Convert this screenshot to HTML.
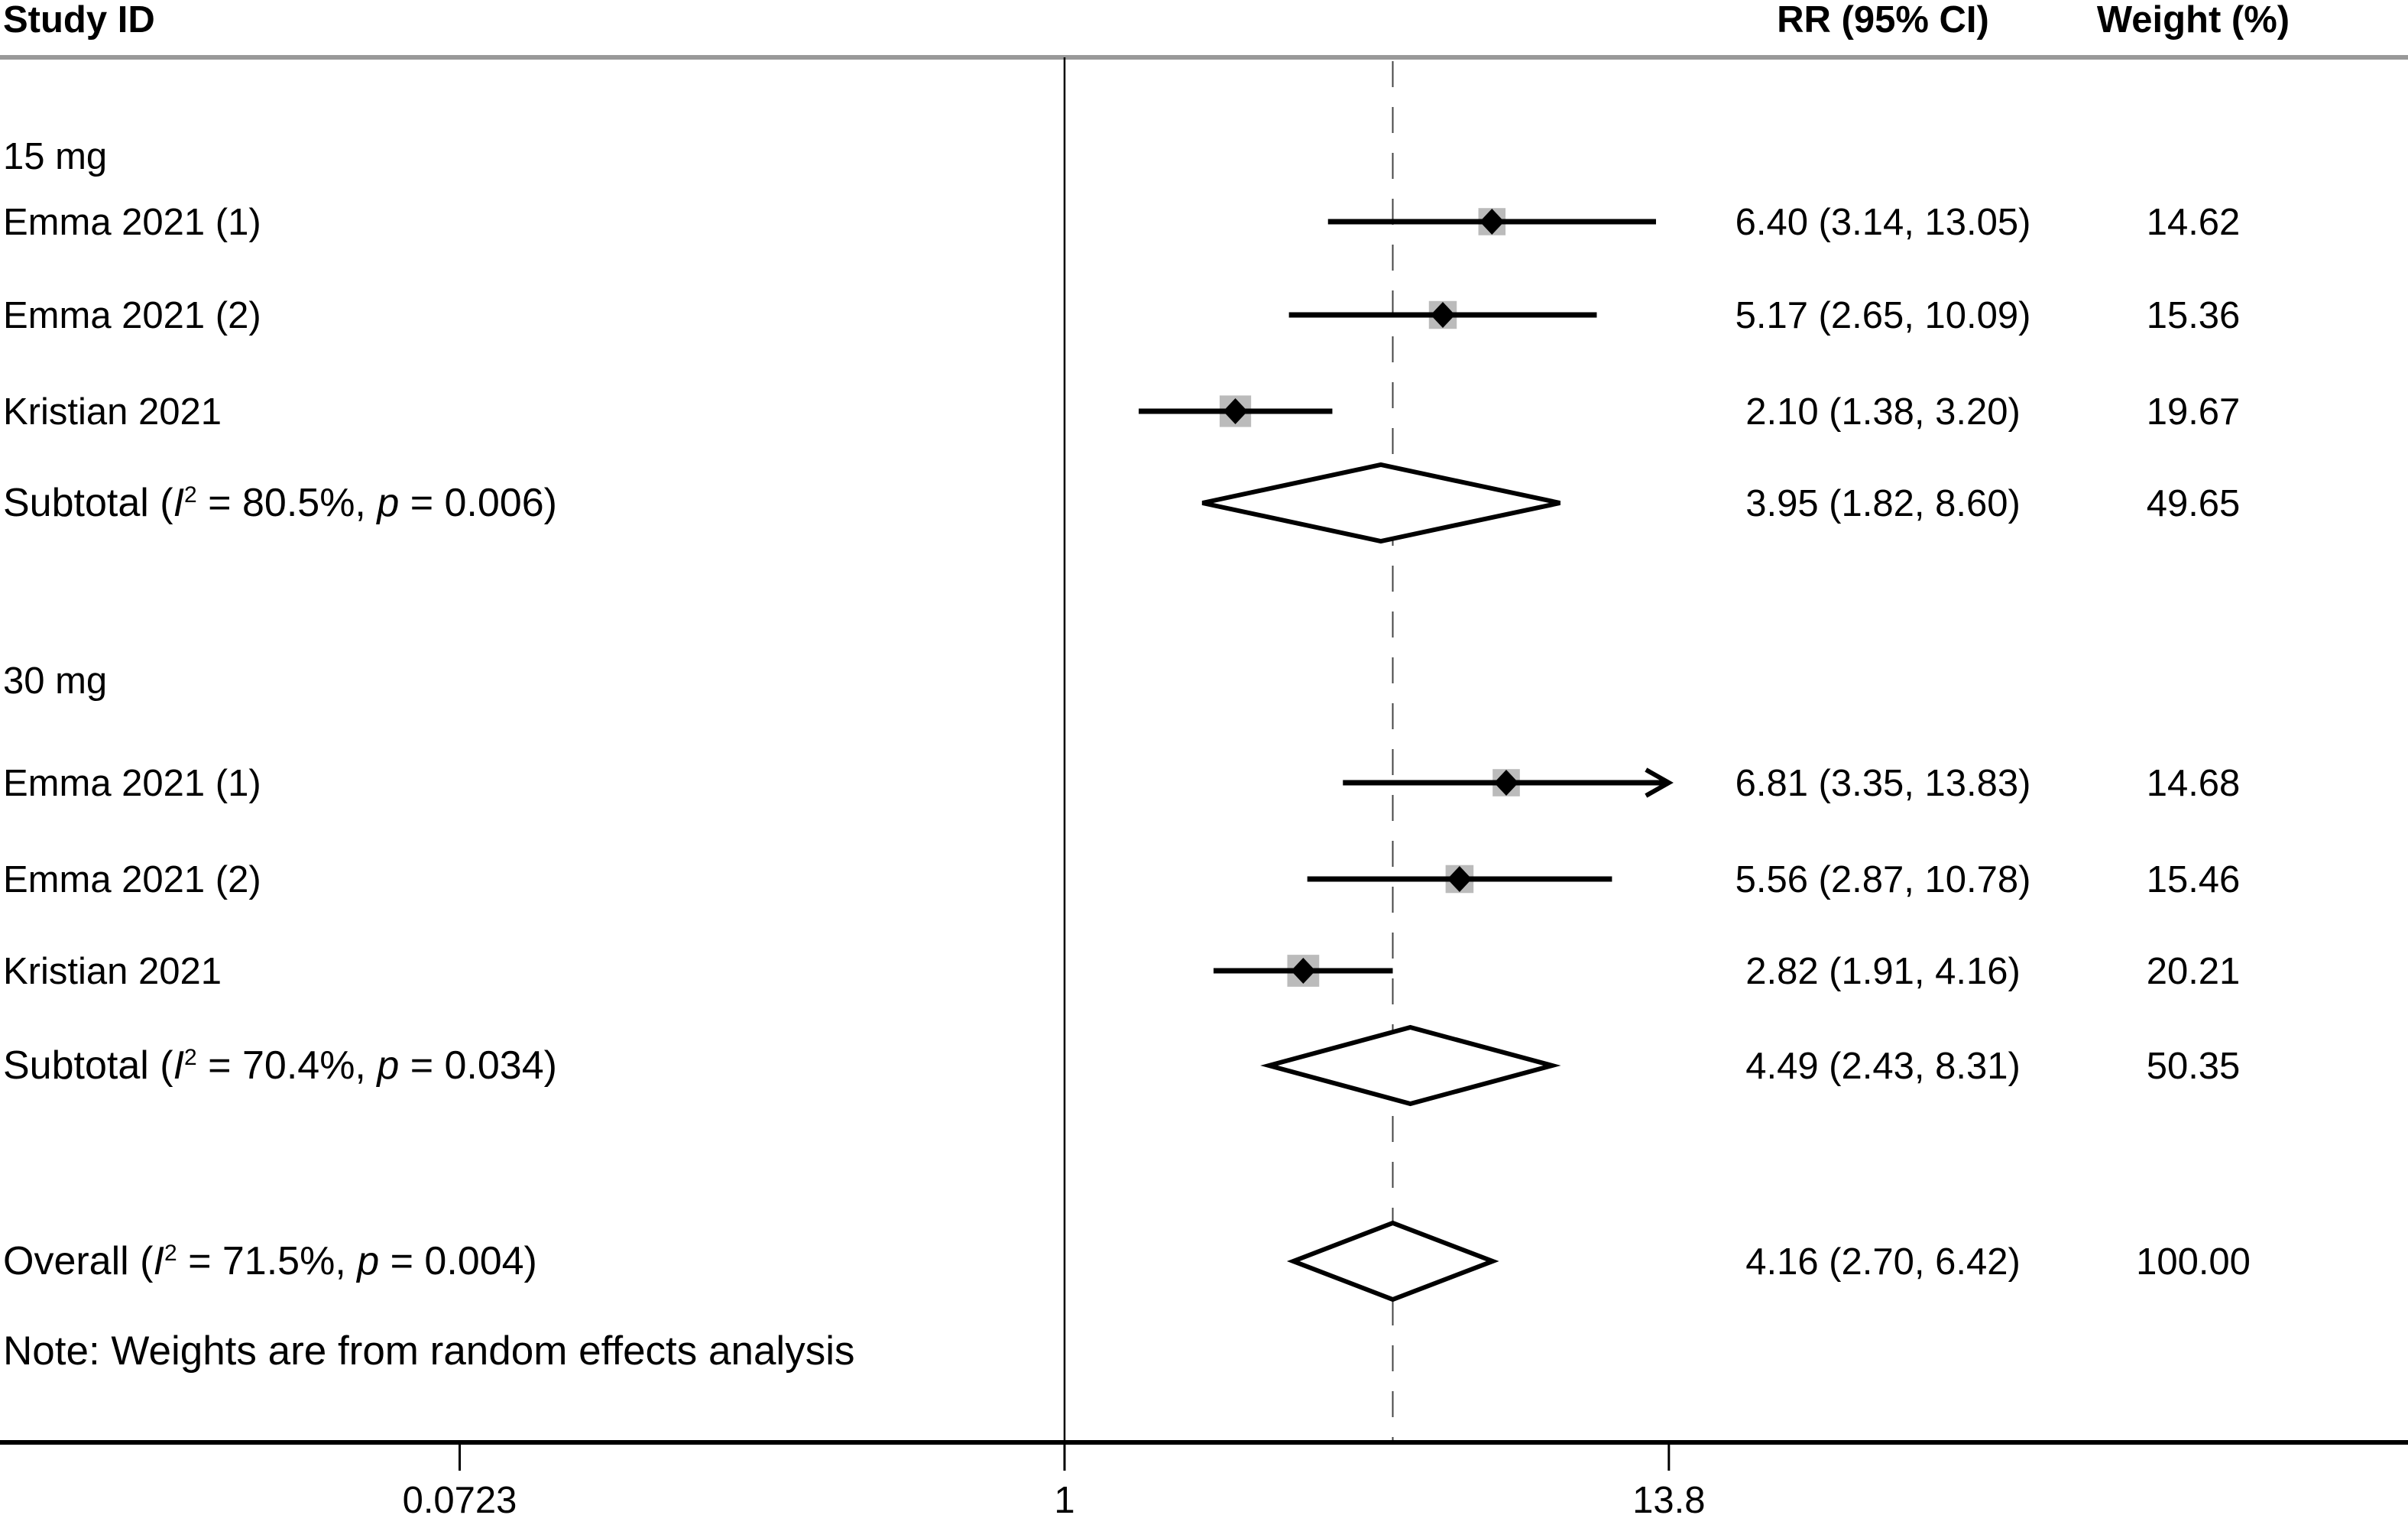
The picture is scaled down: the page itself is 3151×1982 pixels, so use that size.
<!DOCTYPE html>
<html><head><meta charset="utf-8"><style>
html,body{margin:0;padding:0;background:#fff;}
svg{display:block;font-family:"Liberation Sans",sans-serif;}
</style></head><body>
<svg id="chart" width="3151" height="1982" viewBox="0 0 3151 1982" xmlns="http://www.w3.org/2000/svg">
<text x="4" y="42" font-size="49" font-weight="bold">Study ID</text>
<text x="2464" y="42" font-size="49" font-weight="bold" text-anchor="middle">RR (95% CI)</text>
<text x="2870" y="42" font-size="49" font-weight="bold" text-anchor="middle">Weight (%)</text>
<line x1="0" y1="75" x2="3151" y2="75" stroke="#999" stroke-width="6"/>
<g id="marks"></g>
</svg>
<script>
const labels = ["Emma 2021 (1)","Emma 2021 (2)","Kristian 2021","SUB1","Emma 2021 (1)","Emma 2021 (2)","Kristian 2021","SUB2","OVR"];
const rr = [6.40,5.17,2.10,3.95,6.81,5.56,2.82,4.49,4.16];
const lo = [3.14,2.65,1.38,1.82,3.35,2.87,1.91,2.43,2.70];
const hi = [13.05,10.09,3.20,8.60,13.83,10.78,4.16,8.31,6.42];
const weights = ["14.62","15.36","19.67","49.65","14.68","15.46","20.21","50.35","100.00"];
const kinds = ["s","s","s","d","s","s","s","d","d"];
const rowY = [290,412,538,658,1024,1150,1270,1394,1650];
const ticks = [0.0723,1,13.8];
const tickLabels = ["0.0723","1","13.8"];

const NS="http://www.w3.org/2000/svg";
const g=document.getElementById('marks');
const X0=1393, K=301.3, AXMAX=13.8;
const xs=v=>X0+K*Math.log(v);
function el(t,a){const e=document.createElementNS(NS,t);for(const k in a)e.setAttribute(k,a[k]);g.appendChild(e);return e;}
function txt(x,y,s,anchor,fs){const f=fs||49;const e=el('text',{x:x,y:y+17,'font-size':f,'text-anchor':anchor||'start'});e.innerHTML=s;return e;}

let e=el('line',{x1:X0,y1:75,x2:X0,y2:1885,stroke:'#000','stroke-width':2.5});


e=el('line',{x1:xs(rr[8]),y1:80,x2:xs(rr[8]),y2:1885,stroke:'#444','stroke-width':2,'stroke-dasharray':'34,26'});



e=txt(4,204,'15 mg');


e=txt(4,890,'30 mg');


e=txt(4,1768,'Note: Weights are from random effects analysis','start',53);



const subLabels={SUB1:'Subtotal (<tspan font-style="italic">I</tspan><tspan font-size="30" dy="-18">2</tspan><tspan dy="18"> = 80.5%, </tspan><tspan font-style="italic">p</tspan> = 0.006)',
SUB2:'Subtotal (<tspan font-style="italic">I</tspan><tspan font-size="30" dy="-18">2</tspan><tspan dy="18"> = 70.4%, </tspan><tspan font-style="italic">p</tspan> = 0.034)',
OVR:'Overall (<tspan font-style="italic">I</tspan><tspan font-size="30" dy="-18">2</tspan><tspan dy="18"> = 71.5%, </tspan><tspan font-style="italic">p</tspan> = 0.004)'};

for(let i=0;i<labels.length;i++){
  const y=rowY[i];
  const isSub=!!subLabels[labels[i]];
  const lab=subLabels[labels[i]]||labels[i];
  e=txt(4,y,lab,'start',isSub?52:49);
  
  
  e=txt(2464,y,rr[i].toFixed(2)+' ('+lo[i].toFixed(2)+', '+hi[i].toFixed(2)+')','middle');
  
  
  e=txt(2870,y,weights[i],'middle');
  
  
  const xl=xs(lo[i]), xc=xs(rr[i]);
  if(kinds[i]==='s'){
    const over=hi[i]>AXMAX;
    const xh=over?xs(AXMAX):xs(hi[i]);
    const w=parseFloat(weights[i]);
    const sq=36*Math.sqrt(w/15);
    e=el('rect',{x:xc-sq/2,y:y-sq/2,width:sq,height:sq,fill:'#bbb'});
    
    
    e=el('line',{x1:xl,y1:y,x2:xh,y2:y,stroke:'#000','stroke-width':7});
    
    
    if(over){
      e=el('polyline',{points:`${xh-30},${y-17} ${xh},${y} ${xh-30},${y+17}`,fill:'none',stroke:'#000','stroke-width':6});
      
      
    }
    e=el('polygon',{points:`${xc},${y-17} ${xc+16},${y} ${xc},${y+17} ${xc-16},${y}`,fill:'#000'});
    
    
  } else {
    const xh=xs(hi[i]);
    e=el('polygon',{points:`${xl},${y} ${xc},${y-50} ${xh},${y} ${xc},${y+50}`,fill:'#fff',stroke:'#000','stroke-width':6});
    
    
  }
}

e=el('line',{x1:0,y1:1887,x2:3151,y2:1887,stroke:'#000','stroke-width':6});


for(let i=0;i<ticks.length;i++){
  const x=xs(ticks[i]);
  e=el('line',{x1:x,y1:1887,x2:x,y2:1924,stroke:'#000','stroke-width':3});
  
  
  e=txt(x,1962,tickLabels[i],'middle');
  
  
}
</script>
</body></html>
